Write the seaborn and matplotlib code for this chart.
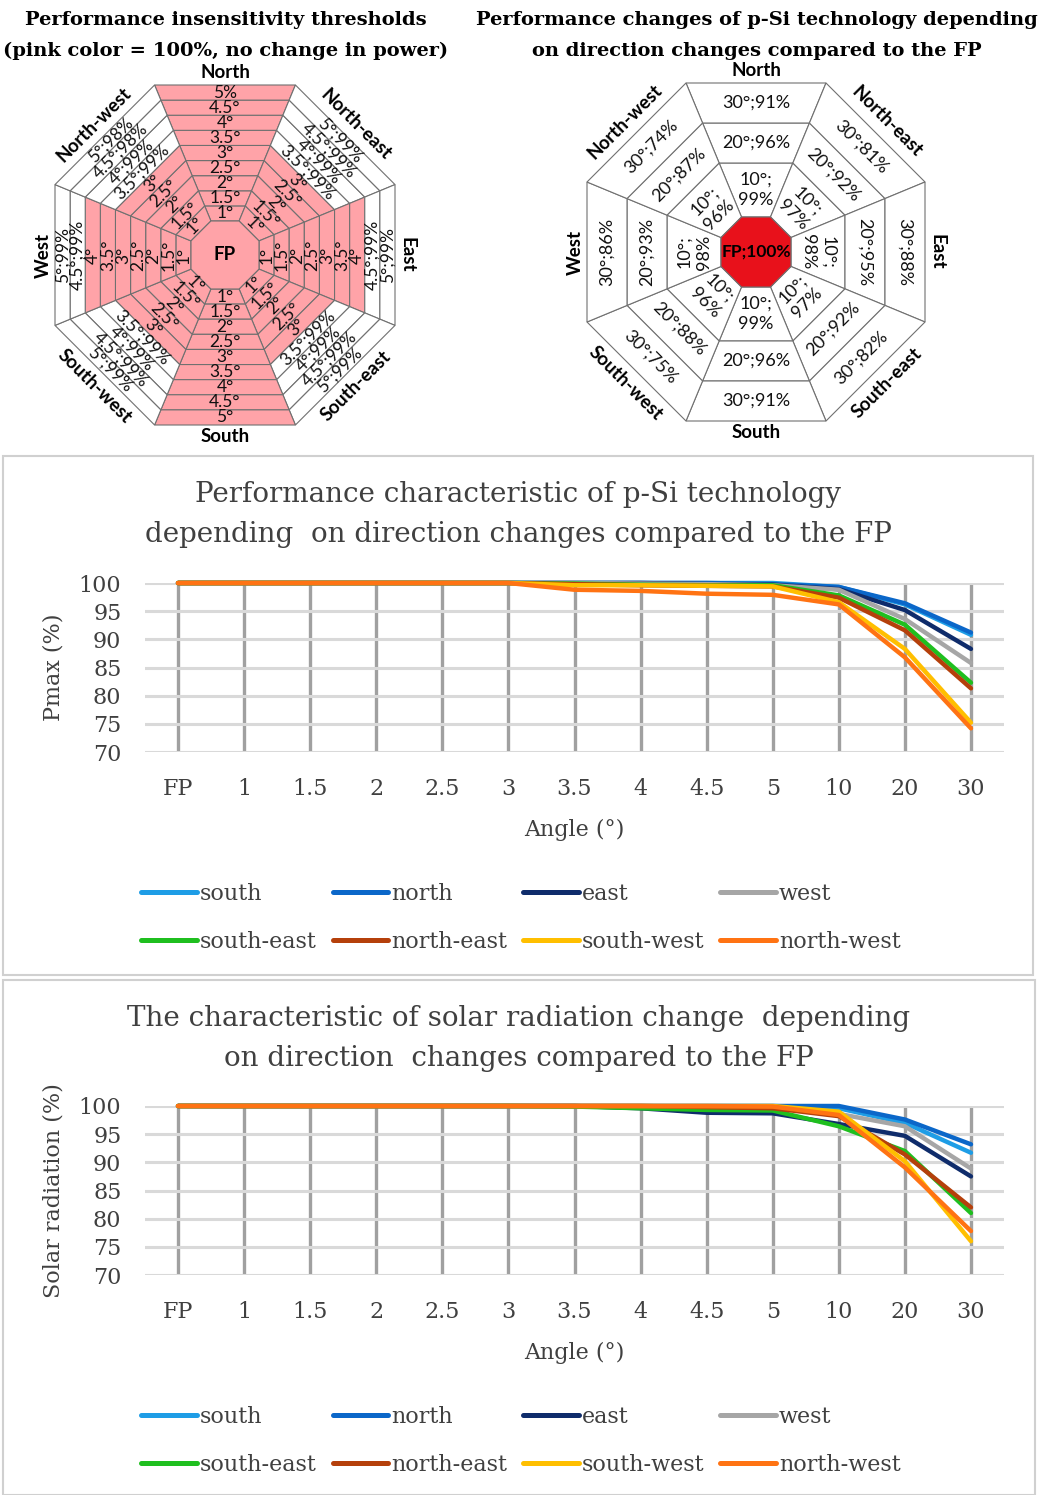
import numpy as np
import pandas as pd
import seaborn as sns
import matplotlib.pyplot as plt
from matplotlib.patches import Polygon, Rectangle
from matplotlib.lines import Line2D

W, H = 1047, 1495

# ---- octagon data ----
directions = ['North', 'North-east', 'East', 'South-east', 'South', 'South-west', 'West', 'North-west']
dir_angles = [90, 45, 0, -45, -90, -135, 180, 135]

small_angles = ['1°', '1.5°', '2°', '2.5°', '3°', '3.5°', '4°', '4.5°', '5°']
thr_north = [100, 100, 100, 100, 100, 100, 100, 100, 100]
thr_north_east = [100, 100, 100, 100, 100, 99, 99, 99, 99]
thr_east = [100, 100, 100, 100, 100, 100, 100, 99, 99]
thr_south_east = [100, 100, 100, 100, 100, 99, 99, 99, 99]
thr_south = [100, 100, 100, 100, 100, 100, 100, 100, 100]
thr_south_west = [100, 100, 100, 100, 100, 99, 99, 99, 99]
thr_west = [100, 100, 100, 100, 100, 100, 100, 99, 99]
thr_north_west = [100, 100, 100, 100, 100, 99, 99, 98, 98]

big_angles = ['10°', '20°', '30°']
chg_north = [99, 96, 91]
chg_north_east = [97, 92, 81]
chg_east = [98, 95, 88]
chg_south_east = [97, 92, 82]
chg_south = [99, 96, 91]
chg_south_west = [96, 88, 75]
chg_west = [98, 93, 86]
chg_north_west = [96, 87, 74]

# ---- line chart data ----
angle_labels = ['FP', '1', '1.5', '2', '2.5', '3', '3.5', '4', '4.5', '5', '10', '20', '30']
series_names = ['south', 'north', 'east', 'west', 'south-east', 'north-east', 'south-west', 'north-west']

pmax_south = [100, 100, 100, 100, 100, 100, 100, 100, 100, 100, 99.3, 96.2, 90.8]
pmax_north = [100, 100, 100, 100, 100, 100, 100, 100, 100, 99.8, 99.3, 96.4, 91.2]
pmax_east = [100, 100, 100, 100, 100, 100, 100, 100, 99.8, 99.7, 98.9, 95.2, 88.3]
pmax_west = [100, 100, 100, 100, 100, 100, 100, 99.9, 99.8, 99.6, 98.8, 93.6, 85.8]
pmax_south_east = [100, 100, 100, 100, 100, 100, 99.9, 99.7, 99.6, 99.6, 97.8, 92.6, 82.3]
pmax_north_east = [100, 100, 100, 100, 100, 100, 99.8, 99.6, 99.5, 99.4, 97.4, 91.6, 81.3]
pmax_south_west = [100, 100, 100, 100, 100, 100, 99.6, 99.6, 99.5, 99.4, 96.6, 88.3, 75.2]
pmax_north_west = [100, 100, 100, 100, 100, 100, 98.8, 98.6, 98.1, 97.9, 96.2, 86.8, 74.2]

rad_south = [100, 100, 100, 100, 100, 100, 100, 100, 100, 100, 99.6, 97.0, 91.7]
rad_north = [100, 100, 100, 100, 100, 100, 100, 100, 100, 100, 100, 97.6, 93.2]
rad_east = [100, 100, 100, 100, 100, 100, 100, 99.6, 98.8, 98.7, 96.8, 94.7, 87.5]
rad_west = [100, 100, 100, 100, 100, 100, 100, 100, 99.9, 99.8, 98.6, 96.4, 88.9]
rad_south_east = [100, 100, 100, 100, 100, 100, 99.9, 99.6, 99.3, 99.2, 96.4, 92.0, 81.0]
rad_north_east = [100, 100, 100, 100, 100, 100, 100, 100, 99.8, 99.6, 98.2, 91.4, 82.0]
rad_south_west = [100, 100, 100, 100, 100, 100, 100, 100, 100, 100, 99.0, 90.2, 76.0]
rad_north_west = [100, 100, 100, 100, 100, 100, 100, 100, 100, 99.9, 98.4, 89.1, 77.8]

palette = {'south': '#1e9de6', 'north': '#0b67c9', 'east': '#0f2c6b', 'west': '#a6a6a6',
           'south-east': '#1fbf1f', 'north-east': '#b5400b', 'south-west': '#ffbf00',
           'north-west': '#ff7313'}

SANS = ['Lato', 'DejaVu Sans']
SERIF = 'DejaVu Serif'
TXT = '#404040'
PINK = '#ffa3a8'

fig = plt.figure(figsize=(W / 100, H / 100), dpi=100)
C22 = np.cos(np.radians(22.5))


def px_axes(cx, cy, half):
    ax = fig.add_axes([(cx - half) / W, 1 - (cy + half) / H, 2 * half / W, 2 * half / H])
    ax.set_xlim(-half, half)
    ax.set_ylim(-half, half)
    ax.axis('off')
    return ax


def wedge(ax, theta, a0, a1, color):
    t0, t1 = np.radians(theta - 22.5), np.radians(theta + 22.5)
    r0, r1 = a0 / C22, a1 / C22
    pts = [(r0 * np.cos(t0), r0 * np.sin(t0)), (r1 * np.cos(t0), r1 * np.sin(t0)),
           (r1 * np.cos(t1), r1 * np.sin(t1)), (r0 * np.cos(t1), r0 * np.sin(t1))]
    ax.add_patch(Polygon(pts, closed=True, fc=color, ec='#707070', lw=0.8))


def center_oct(ax, a, color):
    r = a / C22
    t = np.radians(22.5 + 45 * np.arange(8))
    ax.add_patch(Polygon(np.c_[r * np.cos(t), r * np.sin(t)], closed=True, fc=color, ec='#707070', lw=0.8))


def tangent_rot(theta):
    rot = (theta - 90) % 360
    if 90 < rot < 270:
        rot -= 180
    return rot


def put(ax, r, theta, s, rot, **kw):
    t = np.radians(theta)
    ax.text(r * np.cos(t), r * np.sin(t), s, rotation=rot, rotation_mode='anchor',
            ha='center', va='center', **kw)


# ---- top-left octagon ----
ax1 = px_axes(225, 255, 215)
thresholds = [thr_north, thr_north_east, thr_east, thr_south_east,
              thr_south, thr_south_west, thr_west, thr_north_west]
rings = np.linspace(34, 170, 10)
for d, theta, vals in zip(directions, dir_angles, thresholds):
    rot = tangent_rot(theta)
    cell_rot = 90 if d == 'East' else rot
    for i, (ang, v) in enumerate(zip(small_angles, vals)):
        wedge(ax1, theta, rings[i], rings[i + 1], PINK if v == 100 else 'white')
        lab = ang if v == 100 else f'{ang};{v}%'
        if d == 'North' and i == 8:
            lab = '5%'
        put(ax1, (rings[i] + rings[i + 1]) / 2, theta, lab, cell_rot,
            fontsize=12.5, family=SANS, color='#111111')
    put(ax1, 182 if theta % 90 == 0 else 185, theta, d, rot, fontsize=13.5,
        family=SANS, fontweight='bold', color='black')
center_oct(ax1, rings[0], PINK)
ax1.text(0, 0, 'FP', ha='center', va='center', fontsize=13.5, family=SANS, fontweight='bold')

# ---- top-right octagon ----
ax2 = px_axes(756, 252, 200)
changes = [chg_north, chg_north_east, chg_east, chg_south_east,
           chg_south, chg_south_west, chg_west, chg_north_west]
rings2 = [35, 89, 129, 169]
for d, theta, vals in zip(directions, dir_angles, changes):
    rot = tangent_rot(theta)
    for i, (ang, v) in enumerate(zip(big_angles, vals)):
        wedge(ax2, theta, rings2[i], rings2[i + 1], 'white')
        sep = '\n' if i == 0 else ''
        put(ax2, (rings2[i] + rings2[i + 1]) / 2, theta, f'{ang};{sep}{v}%', rot,
            fontsize=13, family=SANS, color='#111111', linespacing=1.3)
    put(ax2, 181 if theta % 90 == 0 else 185, theta, d, rot, fontsize=13.5,
        family=SANS, fontweight='bold', color='black')
center_oct(ax2, rings2[0], '#e8111b')
ax2.text(0, 0, 'FP;100%', ha='center', va='center', fontsize=12.5, family=SANS, fontweight='bold')

# top titles
for x, y, s in [(226, 20, 'Performance insensitivity thresholds'),
                (226, 51, '(pink color = 100%, no change in power)'),
                (757, 20, 'Performance changes of p-Si technology depending'),
                (757, 51, 'on direction changes compared to the FP')]:
    fig.text(x / W, 1 - y / H, s, ha='center', va='center',
             fontsize=14, family=SERIF, fontweight='bold')


# ---- line charts ----
def line_panel(box, top, bottom, title, values, ylabel, legend_y):
    x0, y0, x1, y1 = box
    fig.patches.append(Rectangle((x0 / W, 1 - y1 / H), (x1 - x0) / W, (y1 - y0) / H,
                                 transform=fig.transFigure, fc='none', ec='#d0d0d0', lw=1.5))
    cx = (x0 + x1) / 2
    fig.text(cx / W, 1 - (y0 + 39) / H, title[0], ha='center', va='center',
             fontsize=20, family=SERIF, color=TXT)
    fig.text(cx / W, 1 - (y0 + 78) / H, title[1], ha='center', va='center',
             fontsize=20, family=SERIF, color=TXT)

    ax = fig.add_axes([145 / W, 1 - bottom / H, (1004 - 145) / W, (bottom - top) / H])
    rows = []
    for name, vals in zip(series_names, values):
        for pos, v in enumerate(vals):
            rows.append({'pos': pos, 'value': v, 'series': name})
    df = pd.DataFrame(rows)
    sns.lineplot(data=df, x='pos', y='value', hue='series', hue_order=series_names,
                 palette=palette, lw=3.2, ax=ax, legend=False, sort=False, clip_on=False,
                 solid_capstyle='round', zorder=3)
    ax.set_xlim(-0.5, 12.5)
    ax.set_ylim(70, 100)
    ax.set_xticks(range(len(angle_labels)))
    ax.set_xticklabels(angle_labels)
    ax.set_yticks([70, 75, 80, 85, 90, 95, 100])
    ax.xaxis.grid(True, color='#a0a0a0', lw=2.4)
    ax.yaxis.grid(True, color='#d9d9d9', lw=2.2)
    ax.set_axisbelow(True)
    for s in ax.spines.values():
        s.set_visible(False)
    ax.tick_params(length=0, labelsize=16, labelcolor=TXT)
    ax.tick_params(axis='x', pad=19)
    ax.tick_params(axis='y', pad=17)
    for lab in ax.get_xticklabels() + ax.get_yticklabels():
        lab.set_family(SERIF)
    ax.set_xlabel('Angle (°)', fontsize=16, family=SERIF, color=TXT, labelpad=13)
    ax.set_ylabel(ylabel, fontsize=16, family=SERIF, color=TXT, labelpad=10)

    order = ['south', 'south-east', 'north', 'north-east', 'east', 'south-west', 'west', 'north-west']
    handles = [Line2D([], [], color=palette[n], lw=3.6, solid_capstyle='round') for n in order]
    fig.legend(handles, order, loc='center', bbox_to_anchor=(521 / W, 1 - legend_y / H), ncol=4,
               frameon=False, handlelength=2.5, handletextpad=0.15, columnspacing=0.7,
               labelspacing=1.15, prop={'family': SERIF, 'size': 16}, labelcolor=TXT)


line_panel((3, 456, 1033, 975), 583, 752,
           ['Performance characteristic of p-Si technology',
            'depending  on direction changes compared to the FP'],
           [pmax_south, pmax_north, pmax_east, pmax_west,
            pmax_south_east, pmax_north_east, pmax_south_west, pmax_north_west],
           'Pmax (%)', 918)

line_panel((3, 980, 1035, 1495), 1106, 1275,
           ['The characteristic of solar radiation change  depending',
            'on direction  changes compared to the FP'],
           [rad_south, rad_north, rad_east, rad_west,
            rad_south_east, rad_north_east, rad_south_west, rad_north_west],
           'Solar radiation (%)', 1441)

fig.savefig('out.png', dpi=100)
